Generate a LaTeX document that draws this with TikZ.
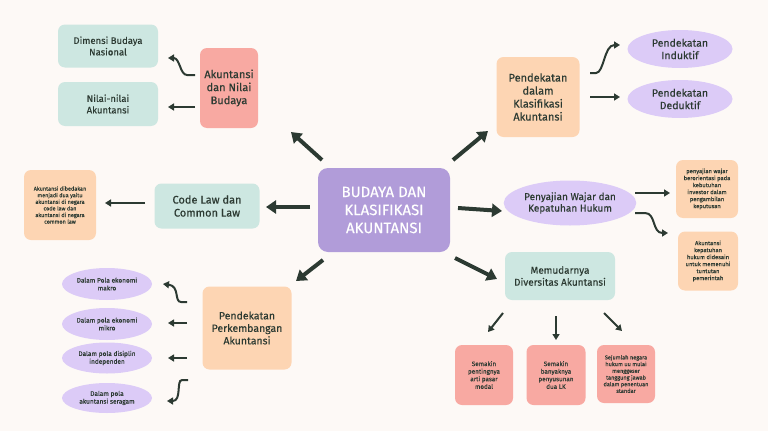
\documentclass[tikz,border=0pt]{standalone}
\usepackage{fontspec}
\setmainfont{Fira Sans}[FakeBold=0.3]
\usetikzlibrary{shapes.geometric,arrows.meta}
\definecolor{bg}{HTML}{FDF9F6}
\definecolor{cen}{HTML}{B19CD9}
\definecolor{sal}{HTML}{F8A9A2}
\definecolor{mint}{HTML}{CDE7E1}
\definecolor{peach}{HTML}{FDD5B3}
\definecolor{lav}{HTML}{DCCBF7}
\definecolor{ink}{HTML}{2C3A32}
\tikzset{
 box/.style={rounded corners=7pt,align=center,text=ink,inner sep=2pt},
 ell/.style={ellipse,fill=lav,align=center,text=ink,inner sep=1pt},
 arr/.style={draw=ink,line width=2pt,-{Triangle[length=6pt,width=7pt]}},
 big/.style={draw=ink,line width=4pt,-{Triangle[length=10pt,width=13pt]}},
}
\begin{document}
\begin{tikzpicture}[x=1pt,y=-1pt]
\fill[bg] (0,0) rectangle (768,431);
\useasboundingbox (0,0) rectangle (768,431);
% centre
\node[box,fill=cen,text=white,minimum width=132pt,minimum height=84pt,rounded corners=10pt,font=\fontsize{15}{18}\selectfont] (c) at (384,210) {BUDAYA DAN\\KLASIFIKASI\\AKUNTANSI};
% top left
\node[box,fill=sal,minimum width=58pt,minimum height=80pt,font=\fontsize{11}{13}\selectfont] (anb) at (229,88) {Akuntansi\\dan Nilai\\Budaya};
\node[box,fill=mint,minimum width=100pt,minimum height=43pt,font=\fontsize{9.5}{11.5}\selectfont] (dbn) at (108,46) {Dimensi Budaya\\Nasional};
\node[box,fill=mint,minimum width=100pt,minimum height=44pt,font=\fontsize{9.5}{11.5}\selectfont] (nna) at (108,104) {Nilai-nilai\\Akuntansi};
% top right
\node[box,fill=peach,minimum width=83pt,minimum height=80pt,font=\fontsize{11}{13}\selectfont] (pdk) at (538,97) {Pendekatan\\dalam\\Klasifikasi\\Akuntansi};
\node[ell,minimum width=105pt,minimum height=38pt,font=\fontsize{10.5}{12.5}\selectfont] (ind) at (680,49) {Pendekatan\\Induktif};
\node[ell,minimum width=105pt,minimum height=38pt,font=\fontsize{10.5}{12.5}\selectfont] (ded) at (680,99) {Pendekatan\\Deduktif};
% right
\node[ell,minimum width=127pt,minimum height=45pt,font=\fontsize{10}{11.5}\selectfont] (pw) at (570,203) {Penyajian Wajar dan\\Kepatuhan Hukum};
\node[box,fill=peach,minimum width=62pt,minimum height=58pt,font=\fontsize{5.8}{7}\selectfont] (pw1) at (707,189) {penyajian wajar\\berorientasi pada\\kebutuhan\\investor dalam\\pengambilan\\keputusan};
\node[box,fill=peach,minimum width=60pt,minimum height=59pt,font=\fontsize{5.8}{7}\selectfont] (pw2) at (708,261) {Akuntansi\\kepatuhan\\hukum didesain\\untuk memenuhi\\tuntutan\\pemerintah};
% left
\node[box,fill=mint,minimum width=105pt,minimum height=45pt,font=\fontsize{11}{13}\selectfont] (cl) at (207,206) {Code Law dan\\Common Law};
\node[box,fill=peach,minimum width=72pt,minimum height=70pt,font=\fontsize{5.5}{6.6}\selectfont] (clt) at (60,205) {Akuntansi dibedakan\\menjadi dua yaitu\\akuntansi di negara\\code law dan\\akuntansi di negara\\common law};
% bottom right
\node[box,fill=mint,minimum width=110pt,minimum height=48pt,font=\fontsize{10}{12}\selectfont] (md) at (560,276) {Memudarnya\\Diversitas Akuntansi};
\node[box,fill=sal,minimum width=58pt,minimum height=60pt,font=\fontsize{6.3}{7.6}\selectfont] (b1) at (484,375) {Semakin\\pentingnya\\arti pasar\\modal};
\node[box,fill=sal,minimum width=59pt,minimum height=60pt,font=\fontsize{6.3}{7.6}\selectfont] (b2) at (556,375) {Semakin\\banyaknya\\penyusunan\\dua LK};
\node[box,fill=sal,minimum width=58pt,minimum height=58pt,font=\fontsize{5.6}{6.7}\selectfont] (b3) at (626,374) {Sejumlah negara\\hukum uu mulai\\menggeser\\tanggung jawab\\dalam penentuan\\standar};
% bottom left
\node[box,fill=peach,minimum width=89pt,minimum height=83pt,font=\fontsize{10.5}{12.5}\selectfont] (pp) at (247,328) {Pendekatan\\Perkembangan\\Akuntansi};
\node[ell,minimum width=90pt,minimum height=32pt,font=\fontsize{6.5}{7.8}\selectfont] (e1) at (107,284) {Dalam Pola ekonomi\\makro};
\node[ell,minimum width=90pt,minimum height=32pt,font=\fontsize{6.5}{7.8}\selectfont] (e2) at (107,324) {Dalam pola ekonomi\\mikro};
\node[ell,minimum width=90pt,minimum height=31pt,font=\fontsize{6.5}{7.8}\selectfont] (e3) at (107,358) {Dalam pola disiplin\\independen};
\node[ell,minimum width=90pt,minimum height=30pt,font=\fontsize{6.5}{7.8}\selectfont] (e4) at (107,398) {Dalam pola\\akuntansi seragam};
% arrow anchor points
\coordinate (s1) at (322,160); \coordinate (t1) at (291,132);
\coordinate (s2) at (453,160); \coordinate (t2) at (488,131);
\coordinate (s3) at (310,207); \coordinate (t3) at (266,207);
\coordinate (s4) at (458,208); \coordinate (t4) at (502,211);
\coordinate (s5) at (323,260); \coordinate (t5) at (296,281);
\coordinate (s6) at (455,258); \coordinate (t6) at (497,279);
\draw[big] (s1) -- (t1);
\draw[big] (s2) -- (t2);
\draw[big] (s3) -- (t3);
\draw[big] (s4) -- (t4);
\draw[big] (s5) -- (t5);
\draw[big] (s6) -- (t6);
% small arrows
\draw[arr] (195,75) -- (187,75) .. controls (180,75) and (180,58) .. (168,58);
\draw[arr] (195,107) -- (168,107);
\draw[arr] (590,73) -- (596,73) .. controls (604,73) and (604,45) .. (620,45);
\draw[arr] (590,97) -- (620,97);
\draw[arr] (635,193) -- (670,193);
\draw[arr] (635,213) -- (645,213) .. controls (656,213) and (652,233) .. (668,233);
\draw[arr] (145,203) -- (105,203);
\draw[arr] (503,313) -- (488,332);
\draw[arr] (556,316) -- (556,340);
\draw[arr] (604,313) -- (622,331);
\draw[arr] (187,302) -- (181,302) .. controls (174,302) and (180,286) .. (163,284);
\draw[arr] (187,323) -- (168,323);
\draw[arr] (187,358) -- (168,358);
\draw[arr] (188,380) -- (182,380) .. controls (176,380) and (182,401) .. (167,401);
\end{tikzpicture}
\end{document}
